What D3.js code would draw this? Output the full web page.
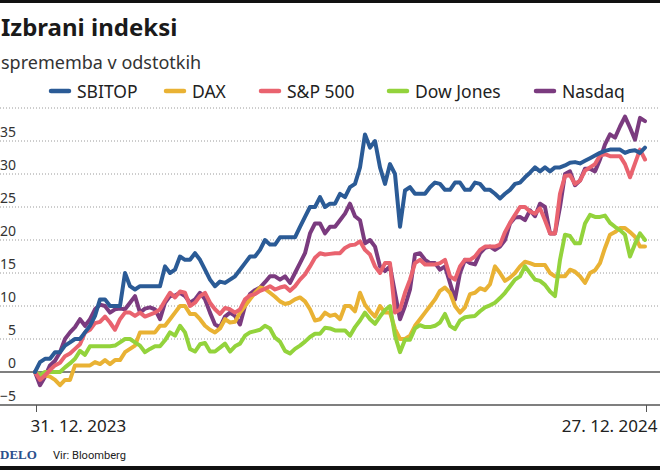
<!DOCTYPE html>
<html>
<head>
<meta charset="utf-8">
<script src="https://cdn.jsdelivr.net/npm/d3@7"></script>
<style>
  html, body { margin: 0; padding: 0; background: #fff; }
  svg { display: block; }
</style>
</head>
<body>
<svg id="chart" width="660" height="472"></svg>
<script>
// ---- Data (percent change since 31.12.2023, sampled evenly across the period) ----
const seriesNames = ["SBITOP", "DAX", "S&P 500", "Dow Jones", "Nasdaq"];
const seriesColors = ["#2b5b96", "#e9b234", "#e9636f", "#93d33c", "#7b3b7f"];
const xTickLabels = ["31. 12. 2023", "27. 12. 2024"];
const yTicks = [-5, 0, 5, 10, 15, 20, 25, 30, 35, 40];

const sbitop = [0,1.5,2,2,3,3,4,4.5,5,5,6,7,8.5,11,11,10,10,10,15,13,12.5,13,13,13,13,13,16,15,15.5,17.5,17,17,18,17,15.5,14,13,13.7,13.5,14,14.5,15.5,16.5,17.5,17.5,18.5,20,19.3,19.3,20.4,20.4,20.4,20.4,22,23.5,25,25,26.5,25,25.5,25.5,27,26.5,28,28.5,31,36,34,35,31,28.5,31.5,30,22,27.5,28,27,27,27,28,28.7,28.5,27.6,27.6,28.7,28.7,27.6,27.6,28.7,28.5,27.6,27.6,27,26.3,27,27.6,28.5,28.7,29.5,30.2,31,30.4,31,30.4,31,31,31.3,31.7,31.8,31.6,32,32.4,32.8,33.2,33.5,33.7,33.7,33.7,33.2,33.5,33.6,33.2,34];
const dax = [0,-0.5,-0.5,-0.7,-1.2,-2,-1.2,-1.2,1,1,1,1,1.5,1.2,1.8,1.2,1.8,1.8,3,3.5,4,6,6,6,6,7,7,8,9,10,10,8.8,8.8,8,7,6.4,6,6.6,8,7.5,7.6,9,10,11,12,12.8,12.6,12,11.4,10.7,10.3,10.5,11,11.3,10.7,9.5,7.8,8,9,8.5,8.7,8,10,10,9.2,12,10.2,9.2,8.4,10,9,9,6.5,5,5,5.5,7,8,9,10,11,12.3,12.8,12,10,9,9.8,11.8,12,12.7,12.4,13.3,16,15,13.8,14.3,15,16,16.7,16.5,16.2,16.2,16.2,15,14.5,14.5,14.5,15.5,15.2,14.5,13.5,15,15.4,16.5,18.8,20.8,21.2,21.8,21.8,21.2,20.5,19,19];
const sp500 = [0,-1.2,-0.5,0.3,1,1.4,2.4,2.8,3.5,4.2,6,6.4,7.4,7.6,8.4,7.5,6.4,8,9,9,8.5,9,8.4,8.7,9,9.5,10.8,12,11.3,12.2,12,10,10.5,11.5,12,10.5,9.5,8.8,9.7,9.5,9,9.5,11,11.6,11.8,12.3,12.6,13,12.5,12.8,13,12.3,13,14,14.8,16,17.3,18,17.8,17.9,18,18,18.8,19.2,19.3,19.8,18.5,17.8,16,15,16.5,16.5,9,9.5,12,14,16.5,17,16.3,16.3,16.3,16.5,17,14.5,14,16,17,17,17.5,18.5,19,19,19,19.3,21.2,22.6,23.8,25,25,24.3,24,24.8,23,21,21,27,29.7,29.8,28.5,29,30.5,31,31.5,32.8,33,32.7,32.7,32.7,31.5,29.5,31.6,33.7,32.2];
const dowJones = [0,-0.5,0,0,0,0,0.7,1.3,2,3.2,2.6,3.9,3.9,3.9,3.9,3.9,4,4.5,5,5,4.5,4,3,3.5,3.9,3.9,4.8,6,5.5,7,6,3.5,3.1,4.2,4.4,3.1,3.1,3.7,4.3,3.1,3.9,4.3,5.5,6,6.2,6.4,7,6.6,5.2,4.6,3.2,2.8,3.5,4,4.6,5.3,5.8,5.8,6.7,6.6,6.3,6.3,6.3,5.5,6.8,7.8,9,8,7.3,8.4,9.4,10,5.5,3,4.9,4.9,6.6,7.1,6.8,6.8,7,7.5,8.8,7,6.5,7.8,8.3,8.4,8.5,9.2,9.8,10.1,10.5,11.2,12,13,14,14.5,16,15,14,13.8,13.2,12.2,11.5,17,20.8,20.6,19.5,19.5,22.5,23.8,23.5,23.5,23.7,22.6,22,21.5,20.8,17.5,19.4,21,20];
const nasdaq = [0,-2,-0.7,1,1.7,3,5,6,6.8,8,7,8,9.5,10.2,10,9,9.5,9.6,9.5,10.5,11.5,9,9.6,9.8,9.5,8,10.5,11.5,11.6,12,11.5,10.5,11,12,11,9,7.2,6.8,8.4,9,8.5,7.2,10,11.8,12.4,12.8,13.6,14.5,14.5,14,14.5,13.5,15,16.5,18,21,22.5,22.5,21,22,22,23,24,25.5,23.6,23,19.5,20,19,16,15.3,16,12,8,10,12.5,17.8,18,17,16.5,16.5,15.5,16,13.5,11,15,17,16.5,16.3,18,18.8,19,18.5,19,20,22.5,23.4,23.5,23,24.5,23.6,25.5,25,21,21,25,30,30.4,28.3,29,30.8,30.8,30.4,32.2,34.5,36,35.5,37.2,38.7,37,35.2,38.5,38];

const seriesValues = [sbitop, dax, sp500, dowJones, nasdaq];
// drawing order (bottom to top)
const drawOrder = [4, 1, 3, 2, 0];

// ---- Layout ----
const svg = d3.select("#chart");
const W = 660, H = 472;
const n = sbitop.length;

const x = d3.scaleLinear().domain([0, n - 1]).range([35, 645]);
const y = d3.scaleLinear().domain([-5, 40]).range([405, 108]);

const sans = "'Noto Sans', 'Open Sans', sans-serif";

// Top and bottom black rules
svg.append("rect").attr("x", 0).attr("y", 0).attr("width", W).attr("height", 3).attr("fill", "#111");
svg.append("rect").attr("x", 0).attr("y", 466).attr("width", W).attr("height", 4).attr("fill", "#111");

// Title & subtitle
svg.append("text").attr("x", 1).attr("y", 36)
  .style("font-family", sans).style("font-size", "24px").style("font-weight", "700")
  .attr("fill", "#1a1a1a").text("Izbrani indeksi");
svg.append("text").attr("x", 1).attr("y", 69)
  .style("font-family", sans).style("font-size", "18px")
  .attr("fill", "#333").text("sprememba v odstotkih");

// Legend
const legendX = [49, 164, 259, 387, 534];
const legend = svg.append("g");
seriesNames.forEach((name, i) => {
  const g = legend.append("g").attr("transform", `translate(${legendX[i]},91)`);
  g.append("line").attr("x1", 2).attr("x2", 20).attr("y1", 0).attr("y2", 0)
    .attr("stroke", seriesColors[i]).attr("stroke-width", 4.5).attr("stroke-linecap", "round");
  g.append("text").attr("x", 28).attr("y", 7)
    .style("font-family", sans).style("font-size", "17.5px").attr("fill", "#222").text(name);
});

// Gridlines
const grid = svg.append("g");
yTicks.filter(v => v > 0).forEach(v => {
  grid.append("line").attr("x1", 0).attr("x2", W).attr("y1", y(v)).attr("y2", y(v))
    .attr("stroke", "#9a9a9a").attr("stroke-width", 1).attr("stroke-dasharray", "1,2");
});

// Zero line
svg.append("line").attr("x1", 0).attr("x2", W).attr("y1", y(0)).attr("y2", y(0))
  .attr("stroke", "#555").attr("stroke-width", 1.5);

// Y tick labels
const yAxis = d3.axisLeft(y).tickValues(yTicks.filter(v => v < 40))
  .tickSize(0).tickFormat(d => d < 0 ? "\u2212" + Math.abs(d) : d);
const yg = svg.append("g").attr("transform", "translate(16,-5)").call(yAxis);
yg.select(".domain").remove();
yg.selectAll("text").attr("x", 0).attr("dy", 0)
  .style("font-family", sans).style("font-size", "14px").attr("fill", "#333");

// X axis
const xAxis = d3.axisBottom(x).tickValues([0, n - 1]).tickSize(7).tickFormat((d, i) => xTickLabels[i]);
const xg = svg.append("g").attr("transform", `translate(0,${y(-5)})`).call(xAxis);
xg.select(".domain").remove();
xg.selectAll(".tick line").attr("stroke", "#555").attr("stroke-width", 1).attr("transform", "translate(1,0)");
xg.selectAll(".tick text")
  .style("font-family", sans).style("font-size", "17px").attr("fill", "#222")
  .attr("dy", 0).attr("y", 27)
  .attr("text-anchor", (d, i) => i === 0 ? "start" : "end")
  .attr("x", (d, i) => i === 0 ? -5 : 12);
svg.append("line").attr("x1", 0).attr("x2", W).attr("y1", y(-5)).attr("y2", y(-5))
  .attr("stroke", "#555").attr("stroke-width", 1.5);

// Lines
const line = d3.line().x((d, i) => x(i)).y(d => y(d)).curve(d3.curveLinear);
const lines = svg.append("g");
drawOrder.forEach(k => {
  lines.append("path").datum(seriesValues[k])
    .attr("fill", "none").attr("stroke", seriesColors[k]).attr("stroke-width", 4)
    .attr("stroke-linejoin", "round").attr("stroke-linecap", "round")
    .attr("d", line);
});

// Footer
svg.append("text").attr("x", 0).attr("y", 459)
  .style("font-family", "'Liberation Serif', 'DejaVu Serif', serif").style("font-size", "13px").style("font-weight", "700")
  .attr("fill", "#2b4f8c").text("DELO");
svg.append("text").attr("x", 53).attr("y", 459)
  .style("font-family", "Roboto, sans-serif").style("font-size", "11.5px")
  .attr("textLength", 73).attr("lengthAdjust", "spacingAndGlyphs")
  .attr("fill", "#222").text("Vir: Bloomberg");
</script>
</body>
</html>
